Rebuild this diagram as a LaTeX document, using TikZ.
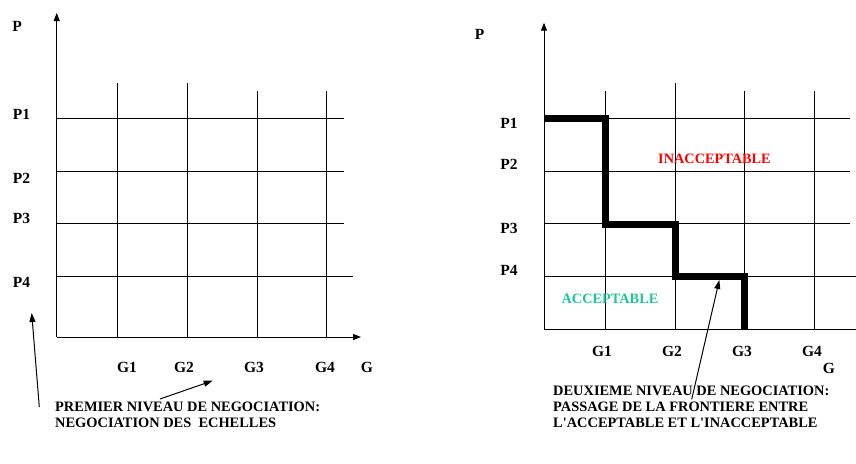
\documentclass[tikz,border=0pt]{standalone}
\usepackage{fontspec}
\newfontfamily\tnr{Liberation Serif}
\usetikzlibrary{arrows.meta}
\definecolor{accgreen}{RGB}{25,200,150}
\definecolor{inacred}{RGB}{255,0,0}
\begin{document}
\begin{tikzpicture}[x=1pt,y=-1pt,
  gridline/.style={line width=1pt},
  axisline/.style={line width=1pt,-{Triangle[length=8pt,width=6pt]}},
  pointer/.style={line width=1pt,-{Triangle[length=9pt,width=6pt]}},
  frontier/.style={line width=7pt,miter limit=10},
  lab/.style={font=\tnr\fontsize{15.5}{18}\selectfont\bfseries,inner sep=0pt,anchor=base},
  capt/.style={font=\tnr\fontsize{14.4}{16}\selectfont\bfseries,inner sep=0pt,anchor=base west,align=left},
  zone/.style={font=\tnr\fontsize{14.3}{16}\selectfont\bfseries,inner sep=0pt,anchor=base}]
\useasboundingbox (0,0) rectangle (856,463);

% ---------- left panel ----------
\coordinate (LO) at (56.7,337);
\coordinate (LYtop) at (56.7,13);
\coordinate (LXend) at (361,337);
% grid
\draw[gridline] (56.7,118) -- (344,118);
\draw[gridline] (56.7,171) -- (344,171);
\draw[gridline] (56.7,223) -- (344,223);
\draw[gridline] (56.7,276) -- (353,276);
\draw[gridline] (117,83) -- (117,337);
\draw[gridline] (187,83) -- (187,337);
\draw[gridline] (257,91) -- (257,337);
\draw[gridline] (326,91) -- (326,337);
% axes
\draw[axisline] (LO) -- (LYtop);
\draw[axisline] (LO) -- (LXend);
% labels
\node[lab] (lP) at (17,31) {P};
\node[lab] (lP1) at (21.5,119) {P1};
\node[lab] (lP2) at (21.5,183) {P2};
\node[lab] (lP3) at (21.5,223) {P3};
\node[lab] (lP4) at (21.5,287) {P4};
\node[lab] (lG1) at (127,372) {G1};
\node[lab] (lG2) at (184,372) {G2};
\node[lab] (lG3) at (254,372) {G3};
\node[lab] (lG4) at (325,372) {G4};
\node[lab] (lG) at (367,372) {G};
% pointers
\coordinate (la1s) at (39.3,407);
\coordinate (la1e) at (31.7,313);
\coordinate (la2s) at (160,399);
\coordinate (la2e) at (212.7,380.7);
\draw[pointer] (la1s) -- (la1e);
\draw[pointer] (la2s) -- (la2e);
\node[capt] (lcap) at (55,427) {PREMIER NIVEAU DE NEGOCIATION:\\NEGOCIATION DES\ \ ECHELLES};

% ---------- right panel ----------
\coordinate (RO) at (544,329);
\coordinate (RYtop) at (544,22.7);
\coordinate (RXend) at (856,329);
\draw[gridline] (544,118) -- (850,118);
\draw[gridline] (544,171) -- (850,171);
\draw[gridline] (544,223) -- (850,223);
\draw[gridline] (544,276) -- (856,276);
\draw[gridline] (605,91) -- (605,329);
\draw[gridline] (675,83) -- (675,329);
\draw[gridline] (744,91) -- (744,329);
\draw[gridline] (814,91) -- (814,329);
\draw[axisline] (RO) -- (RYtop);
\draw[gridline] (RO) -- (RXend);
% frontier
\draw[frontier] (544,118.5) -- (605,118.5) -- (605,224) -- (675,224) -- (675,276.5) -- (744.5,276.5) -- (744.5,329);
% labels
\node[lab] (rP) at (479.5,39) {P};
\node[lab] (rP1) at (509,128) {P1};
\node[lab] (rP2) at (509,169) {P2};
\node[lab] (rP3) at (509,233) {P3};
\node[lab] (rP4) at (509,275) {P4};
\node[lab] (rG1) at (602,356) {G1};
\node[lab] (rG2) at (672,356) {G2};
\node[lab] (rG3) at (742,356) {G3};
\node[lab] (rG4) at (812,356) {G4};
\node[lab] (rG) at (829,373) {G};
\node[zone,text=inacred] (inac) at (714.5,163) {INACCEPTABLE};
\node[zone,text=accgreen] (acc) at (610,303) {ACCEPTABLE};
\coordinate (ra1s) at (691.7,399.3);
\coordinate (ra1e) at (719.3,280);
\draw[pointer] (ra1s) -- (ra1e);
\node[capt] (rcap) at (553,427) {DEUXIEME NIVEAU DE NEGOCIATION:\\PASSAGE DE LA FRONTIERE ENTRE\\L'ACCEPTABLE ET L'INACCEPTABLE};
\end{tikzpicture}
\end{document}
